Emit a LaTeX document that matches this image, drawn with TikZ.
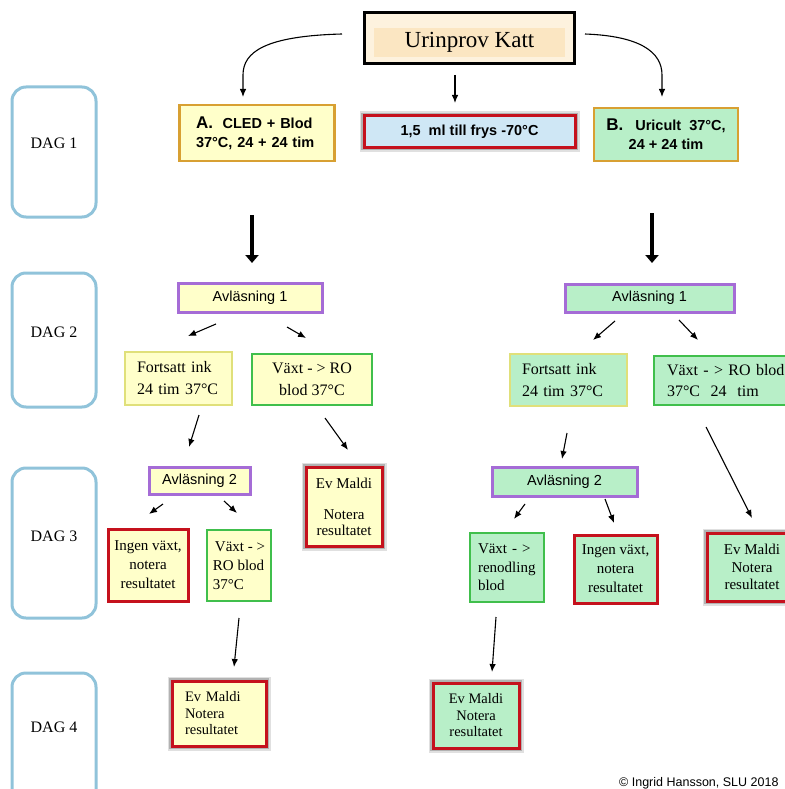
\documentclass[tikz,border=0pt]{standalone}
\usepackage{fontspec}
\setmainfont{Liberation Serif}
\setsansfont{Liberation Sans}
\usepackage{xcolor}
\usetikzlibrary{arrows.meta}

\definecolor{gul}{HTML}{FFFFCA}
\definecolor{gron}{HTML}{B8EFC8}
\definecolor{bla}{HTML}{CFE7F5}
\definecolor{beige}{HTML}{FBE6C2}
\definecolor{ljusbeige}{HTML}{FDF2DE}
\definecolor{guld}{HTML}{D8A032}
\definecolor{rod}{HTML}{C5111D}
\definecolor{lila}{HTML}{A56CD6}
\definecolor{gronkant}{HTML}{40BF4C}
\definecolor{gulkant}{HTML}{E0E07A}
\definecolor{dagkant}{HTML}{90C3DA}

\begin{document}
\begin{tikzpicture}[x=1pt, y=-1pt,
    box/.style = {draw, line width=2.5pt, inner sep=0pt, align=center},
    sansb/.style = {font=\sffamily\bfseries\fontsize{14.5}{19}\selectfont},
    serif/.style = {font=\fontsize{15}{19}\selectfont},
    halo/.style = {preaction={draw=black!12, line width=9pt}, preaction={draw=black!30, line width=6pt}},
    redbox/.style = {box, draw=rod, line width=3pt},
    avl/.style = {box, draw=lila, line width=3pt, font=\sffamily\fontsize{14.5}{16}\selectfont},
    dag/.style = {draw=dagkant, line width=3pt, rounded corners=14pt, minimum width=84pt},
    daglbl/.style = {font=\fontsize{16}{16}\selectfont},
    arr/.style = {-{Latex[length=8pt,width=6.5pt]}, line width=1.1pt},
    bigarr/.style = {-{Triangle[length=8pt,width=13pt]}, line width=4.5pt}]

  \useasboundingbox (0,0) rectangle (784,789);

  % dagar
  \node[dag, minimum height=130pt] (d1) at (54,152) {};
  \node[daglbl] (d1t) at (54,143) {DAG 1};
  \node[dag, minimum height=134pt] (d2) at (54,340) {};
  \node[daglbl] (d2t) at (54,332) {DAG 2};
  \node[dag, minimum height=150pt] (d3) at (54,543) {};
  \node[daglbl] (d3t) at (54,536) {DAG 3};
  \node[dag, minimum height=140pt] (d4) at (54,743) {};
  \node[daglbl] (d4t) at (54,727) {DAG 4};

  % prov
  \node[draw=black, line width=3pt, fill=ljusbeige, minimum width=210pt, minimum height=51pt] (urin) at (469,38.5) {};
  \node[fill=beige, minimum width=191pt, minimum height=29pt, font=\fontsize{23}{23}\selectfont] (urintxt) at (469.5,42.5) {Urinprov Katt};

  \node[box, draw=guld, fill=gul, minimum width=155pt, minimum height=56pt, text width=122pt, align=left, sansb] (pa) at (257,133)
    {{\fontsize{17}{19}\selectfont A.}\ \ CLED + Blod\\37°C, 24 + 24 tim};
  \node[redbox, halo, fill=bla, minimum width=211pt, minimum height=31pt, font=\sffamily\bfseries\fontsize{14.5}{16}\selectfont] (fr) at (469.5,131.5)
    {1,5\ \ ml till frys -70°C};
  \node[box, draw=guld, fill=gron, minimum width=144pt, minimum height=53pt, sansb] (pb) at (666,134.5)
    {{\fontsize{17}{19}\selectfont B.}\hspace{12pt}Uricult\ \ 37°C,\\24 + 24 tim};

  \coordinate (ul) at (342,34);
  \coordinate (pal) at (243,97);
  \coordinate (um) at (455,75);
  \coordinate (frt) at (455,103);
  \coordinate (ur) at (585,34);
  \coordinate (pbt) at (662,97);
  \draw[arr] (ul) .. controls (265,36) and (243,52) .. (243,75) -- (pal);
  \draw[arr] (um) -- (frt);
  \draw[arr] (ur) .. controls (640,36) and (662,52) .. (662,75) -- (pbt);

  \coordinate (ta1) at (252,215);
  \coordinate (ta2) at (252,263);
  \coordinate (tb1) at (652,213);
  \coordinate (tb2) at (652,263);
  \draw[bigarr] (ta1) -- (ta2);
  \draw[bigarr] (tb1) -- (tb2);

  % A-sidan
  \node[avl, fill=gul, minimum width=144pt, minimum height=29pt] (ra1) at (250,297.5) {Avläsning 1};
  \node[box, draw=gulkant, fill=gul, minimum width=107pt, minimum height=53pt, text width=83pt, align=left, font=\fontsize{16}{22}\selectfont] (fa) at (178.5,378.5)
    {Fortsatt ink\\24 tim 37°C};
  \node[box, draw=gronkant, fill=gul, minimum width=120pt, minimum height=51pt, font=\fontsize{16}{22}\selectfont] (va) at (312,379.5)
    {Växt - > RO\\blod 37°C};
  \node[avl, fill=gul, minimum width=101pt, minimum height=27pt] (ra2) at (199.5,480.5) {Avläsning 2};
  \node[redbox, fill=gul, minimum width=80pt, minimum height=72pt, serif] (ia) at (148,565)
    {Ingen växt,\\notera\\resultatet};
  \node[box, draw=gronkant, fill=gul, minimum width=64pt, minimum height=71pt, align=left, serif] (vb) at (239,565.5)
    {\hspace*{2pt}Växt - >\\RO blod\\37°C};
  \node[redbox, halo, fill=gul, minimum width=76pt, minimum height=79pt, font=\fontsize{15}{16}\selectfont] (ma) at (344,506.5)
    {Ev Maldi\\[15pt]Notera\\resultatet};
  \node[redbox, halo, fill=gul, minimum width=94pt, minimum height=65pt, text width=68pt, align=left, font=\fontsize{14.5}{16.5}\selectfont] (m4a) at (219,713.5)
    {Ev Maldi\\Notera\\resultatet};

  \coordinate (a1) at (216,324);
  \coordinate (a2) at (188,336);
  \coordinate (a3) at (287,327);
  \coordinate (a4) at (306,338);
  \coordinate (a5) at (199,415);
  \coordinate (a6) at (189,447);
  \coordinate (a7) at (325,418);
  \coordinate (a8) at (348,450);
  \coordinate (a9) at (163,504);
  \coordinate (a10) at (149,514);
  \coordinate (a11) at (224,501);
  \coordinate (a12) at (237,513);
  \coordinate (a13) at (239,618);
  \coordinate (a14) at (234,667);
  \draw[arr] (a1) -- (a2);
  \draw[arr] (a3) -- (a4);
  \draw[arr] (a5) -- (a6);
  \draw[arr] (a7) -- (a8);
  \draw[arr] (a9) -- (a10);
  \draw[arr] (a11) -- (a12);
  \draw[arr] (a13) -- (a14);

  % B-sidan
  \node[avl, fill=gron, minimum width=169pt, minimum height=28pt] (rb1) at (649.5,298) {Avläsning 1};
  \node[box, draw=gulkant, fill=gron, minimum width=117pt, minimum height=52pt, text width=93pt, align=left, font=\fontsize{16}{22}\selectfont] (fb) at (568.5,380)
    {Fortsatt ink\\24 tim 37°C};
  \node[box, draw=gronkant, fill=gron, minimum width=150pt, minimum height=49pt, text width=124pt, align=left, font=\fontsize{16}{21}\selectfont] (vc) at (729,380.5)
    {Växt - > RO blod\\37°C\ \ 24\ \ tim};
  \node[avl, fill=gron, minimum width=145pt, minimum height=29pt] (rb2) at (564.5,481.5) {Avläsning 2};
  \node[box, draw=gronkant, fill=gron, minimum width=74pt, minimum height=69pt, text width=58pt, align=left, font=\fontsize{15}{18.5}\selectfont] (vd) at (507,567.5)
    {Växt - >\\renodling\\blod};
  \node[redbox, fill=gron, minimum width=83pt, minimum height=68pt, font=\fontsize{15}{19}\selectfont] (ib) at (615.5,569)
    {Ingen växt,\\notera\\resultatet};
  \node[redbox, halo, fill=gron, minimum width=90pt, minimum height=68pt, font=\fontsize{15}{17.5}\selectfont] (mb) at (752,567)
    {Ev Maldi\\Notera\\resultatet};
  \node[redbox, halo, fill=gron, minimum width=86pt, minimum height=65pt, font=\fontsize{14.5}{16.5}\selectfont] (m4b) at (476,715.5)
    {Ev Maldi\\Notera\\resultatet};

  \coordinate (b1) at (615,321);
  \coordinate (b2) at (593,340);
  \coordinate (b3) at (679,320);
  \coordinate (b4) at (698,340);
  \coordinate (b5) at (567,433);
  \coordinate (b6) at (562,459);
  \coordinate (b7) at (706,427);
  \coordinate (b8) at (752,518);
  \coordinate (b9) at (525,504);
  \coordinate (b10) at (514,519);
  \coordinate (b11) at (605,499);
  \coordinate (b12) at (614,523);
  \coordinate (b13) at (496,617);
  \coordinate (b14) at (492,672);
  \draw[arr] (b1) -- (b2);
  \draw[arr] (b3) -- (b4);
  \draw[arr] (b5) -- (b6);
  \draw[arr] (b7) -- (b8);
  \draw[arr] (b9) -- (b10);
  \draw[arr] (b11) -- (b12);
  \draw[arr] (b13) -- (b14);

  \node[anchor=base east, font=\sffamily\fontsize{12.5}{13}\selectfont] (copy) at (782,786) {© Ingrid Hansson, SLU 2018};
\end{tikzpicture}
\end{document}
